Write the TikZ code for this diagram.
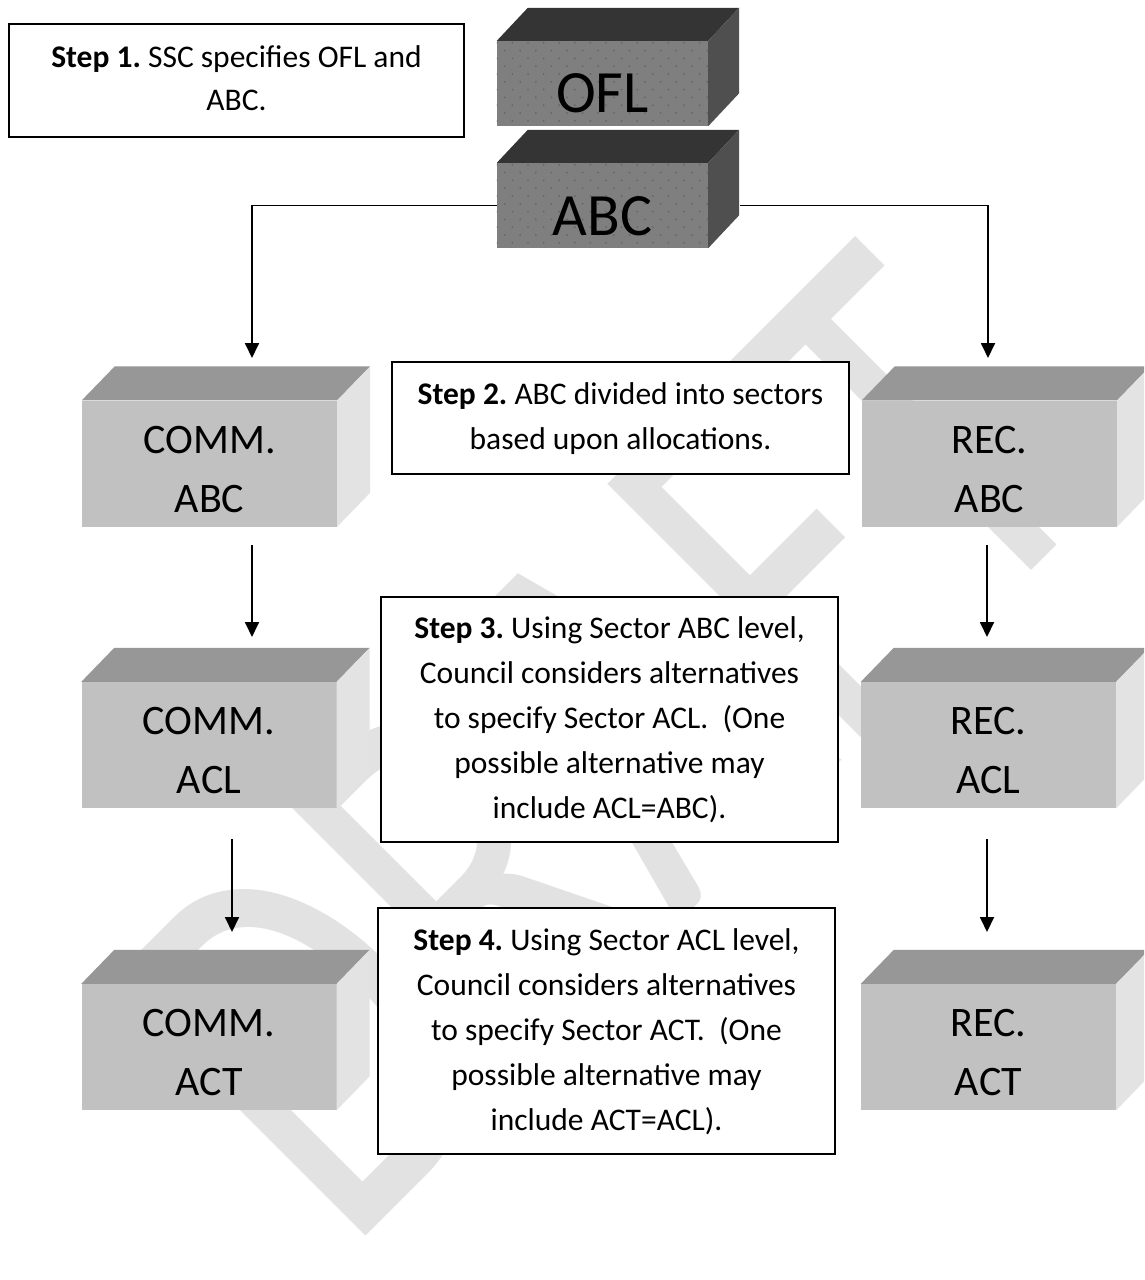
\documentclass[tikz,border=0pt]{standalone}
\usepackage{fontspec}
\setmainfont{Carlito}
\usetikzlibrary{arrows.meta}
\frenchspacing

\definecolor{wmark}{HTML}{E2E2E2}
\definecolor{darkfront}{HTML}{7F7F7F}
\definecolor{darkdot}{HTML}{666666}
\definecolor{darktop}{HTML}{343434}
\definecolor{darkside}{HTML}{4F4F4F}
\definecolor{litefront}{HTML}{C1C1C1}
\definecolor{litetop}{HTML}{979797}
\definecolor{liteside}{HTML}{E3E3E3}

% centred lines whose baseline is the first line
\newcommand\lines[1]{\begin{tabular}[t]{@{}c@{}}#1\end{tabular}}

\tikzset{
  darkbox/.style={fill=darkfront, minimum width=211pt, minimum height=85pt,
    inner sep=0pt},
  darktext/.style={anchor=base, inner sep=0pt, font=\fontsize{60}{60}\selectfont},
  litebox/.style={fill=litefront, minimum width=255pt, minimum height=126pt,
    inner sep=0pt},
  litetext/.style={anchor=base, inner sep=0pt, font=\fontsize{42}{59}\selectfont},
  stepbox/.style={draw=black, line width=1.8pt, fill=white, inner sep=0pt,
    minimum width=457pt, font=\fontsize{31.5}{45}\selectfont},
  conn/.style={line width=1.8pt, -{Triangle[width=14pt,length=15pt]}},
}

% top and right faces of a box whose front face is node #1
\newcommand\boxfaces[5]{%
  \fill[#4] (#1.north west) -- ++(#2,-#3) -- ([shift={(#2,-#3)}]#1.north east)
    -- (#1.north east) -- cycle;
  \fill[#5] (#1.north east) -- ++(#2,-#3) -- ([shift={(#2,-#3)}]#1.south east)
    -- (#1.south east) -- cycle;}

% dotted texture on a dark front face
\newcommand\dotface[1]{%
  \begin{scope}
    \clip (#1.north west) rectangle (#1.south east);
    \foreach \j in {0,...,10}{
      \foreach \k in {0,...,14}{
        \pgfmathsetmacro\dx{15.6*\k+7.8*mod(\j,2)}
        \pgfmathsetmacro\dy{2+7.8*\j}
        \fill[darkdot] ([shift={(\dx,\dy)}]#1.north west) circle (1pt);
      }
    }
  \end{scope}}

% a light sector box with its two-line caption
\newcommand\sectorbox[3]{% name, position, caption
  \node[litebox] (#1) at (#2) {};
  \boxfaces{#1}{33}{34}{litetop}{liteside}
  \node[litetext] (#1-text) at ([shift={(0,-10.5)}]#1.center) {\lines{#3}};}

\begin{document}
\begin{tikzpicture}[x=1pt,y=-1pt]
  \useasboundingbox (0,0) rectangle (1144,1280);
  \clip (0,0) rectangle (1144,1280);
  \fill[white] (0,0) rectangle (1144,1280);

  % watermark
  \node[rotate=45, xscale=0.72, anchor=base west, text=wmark, inner sep=0pt,
    font=\fontsize{562}{562}\selectfont] (wm) at (346,1256) {DRAFT};

  % specified limits
  \node[darkbox] (ofl) at (602.5,83.5) {};
  \node[darkbox] (abc) at (602.5,205.5) {};
  \boxfaces{ofl}{31}{33}{darktop}{darkside}
  \boxfaces{abc}{31}{33}{darktop}{darkside}
  \dotface{ofl}
  \dotface{abc}
  \node[darktext] (ofl-text) at ([shift={(0,28.5)}]ofl.center) {OFL};
  \node[darktext] (abc-text) at ([shift={(0,29.5)}]abc.center) {ABC};

  % sector boxes
  \sectorbox{commabc}{209.5,463.5}{COMM.\\ABC}
  \sectorbox{recabc}{989.5,463.5}{REC.\\ABC}
  \sectorbox{commacl}{209,745}{COMM.\\ACL}
  \sectorbox{recacl}{988.5,745}{REC.\\ACL}
  \sectorbox{commact}{209,1047}{COMM.\\ACT}
  \sectorbox{recact}{988.5,1047}{REC.\\ACT}

  % step descriptions
  \node[stepbox, minimum width=455pt, minimum height=113pt,
    font=\fontsize{31.5}{43}\selectfont] (s1) at (236.5,80.5)
    {\lines{\textbf{Step 1.} SSC specifies OFL and\\ABC.}};
  \node[stepbox, minimum height=112pt] (s2) at (620.5,418)
    {\lines{\textbf{Step 2.} ABC divided into sectors\\based upon allocations.}};
  \node[stepbox, minimum height=245pt] (s3) at (609.5,719.5)
    {\lines{\textbf{Step 3.} Using Sector ABC level,\\Council considers alternatives\\
     to specify Sector ACL.~ (One\\possible alternative may\\include ACL=ABC).}};
  \node[stepbox, minimum height=246pt] (s4) at (606.5,1031)
    {\lines{\textbf{Step 4.} Using Sector ACL level,\\Council considers alternatives\\
     to specify Sector ACT.~ (One\\possible alternative may\\include ACT=ACL).}};

  % connector ends
  \coordinate (inL)  at (252,358);
  \coordinate (inR)  at (988,358);
  \coordinate (outR) at (740,205.5);
  \coordinate (a1s) at (252,545);  \coordinate (a1e) at (252,637);
  \coordinate (b1s) at (987,545);  \coordinate (b1e) at (987,637);
  \coordinate (a2s) at (232,839);  \coordinate (a2e) at (232,932);
  \coordinate (b2s) at (987,839);  \coordinate (b2e) at (987,932);

  \draw[conn] (abc.west) -| (inL);
  \draw[conn] (outR) -| (inR);
  \draw[conn] (a1s) -- (a1e);
  \draw[conn] (b1s) -- (b1e);
  \draw[conn] (a2s) -- (a2e);
  \draw[conn] (b2s) -- (b2e);
\end{tikzpicture}
\end{document}
